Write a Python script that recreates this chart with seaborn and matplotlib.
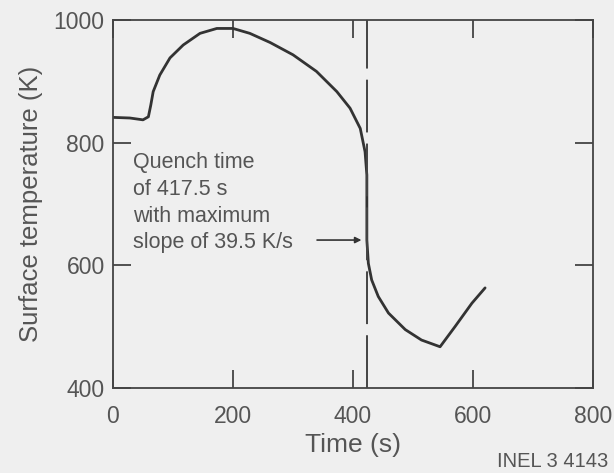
import matplotlib
matplotlib.use("Agg")
import matplotlib.pyplot as plt
import seaborn as sns
import pandas as pd

# ---- data ----
time_s = [0, 28, 50, 59, 63, 67, 78, 95, 117, 145, 173, 200, 228, 262, 300,
          339, 373, 395, 412, 420, 423, 423, 423, 425.5, 431, 442, 459, 487,
          514, 545, 570, 598, 620]
temp_k = [841, 840, 837, 842, 861, 883, 910, 938, 959, 978, 986, 986, 978, 963, 943,
          916, 883, 856, 823, 785, 747, 682, 641, 603, 576, 549, 522, 495,
          478, 467, 500, 538, 563]
quench_time = 423
x_ticks = [0, 200, 400, 600, 800]
y_ticks = [400, 600, 800, 1000]
note_lines = ["Quench time", "of 417.5 s", "with maximum", "slope of 39.5 K/s"]
arrow_from = (340, 641)
arrow_to = (414, 641)
credit = "INEL 3 4143"

df = pd.DataFrame({"Time (s)": time_s, "Surface temperature (K)": temp_k})

sns.set_theme(style="white")
plt.rcParams["font.family"] = ["Liberation Sans", "DejaVu Sans"]
plt.rcParams["lines.scale_dashes"] = False

bg = "#efefef"
ink = "#333333"
txt = "#555555"

fig = plt.figure(figsize=(6.14, 4.73), dpi=100, facecolor=bg)
ax = fig.add_axes([0.184, 0.180, 0.782, 0.778])
ax.set_facecolor(bg)

sns.lineplot(data=df, x="Time (s)", y="Surface temperature (K)", sort=False,
             estimator=None, color=ink, linewidth=2.0, ax=ax)

ax.axvline(quench_time, color="#444444", linewidth=1.4, linestyle=(0, (38, 8)))

ax.set_xlim(x_ticks[0], x_ticks[-1])
ax.set_ylim(y_ticks[0], y_ticks[-1])
ax.set_xticks(x_ticks)
ax.set_yticks(y_ticks)
ax.tick_params(direction="in", length=13, width=1.3, color="#444444",
               bottom=True, left=True, top=True, right=True,
               labelsize=16.5, labelcolor=txt)
ax.tick_params(axis="x", pad=12)
ax.tick_params(axis="y", pad=6)
for s in ax.spines.values():
    s.set_color("#444444")
    s.set_linewidth(1.3)

ax.set_xlabel("Time (s)", fontsize=19, color=txt, labelpad=4)
ax.set_ylabel("Surface temperature (K)", fontsize=18.5, color=txt, labelpad=8)

ax.text(33, 785, "\n".join(note_lines), fontsize=15.5, color=txt,
        va="top", ha="left", linespacing=1.37)
ax.annotate("", xy=arrow_to, xytext=arrow_from,
            arrowprops=dict(arrowstyle="-|>", color=ink, lw=1.2,
                            mutation_scale=9, shrinkA=0, shrinkB=0))
fig.text(0.99, 0.005, credit, fontsize=14.5, color=txt, ha="right", va="bottom")

fig.savefig("out.png", dpi=100, facecolor=bg)
